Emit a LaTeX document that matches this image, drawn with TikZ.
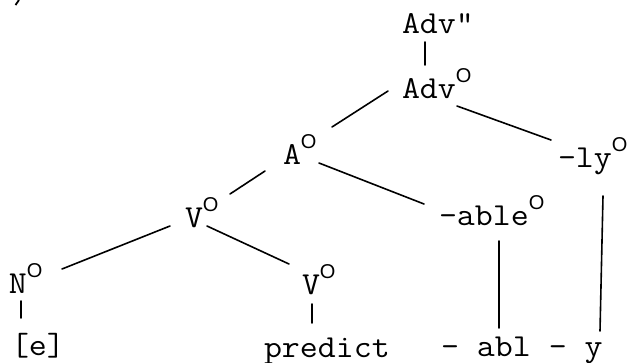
\documentclass[tikz,border=0pt]{standalone}
\usepackage{fontspec}
\setmainfont{Latin Modern Mono}[FakeStretch=1.09]
\newfontfamily\supfont{Liberation Sans}
\newcommand{\sO}{\raisebox{16pt}{\supfont\fontsize{20}{20}\selectfont O}}
\begin{document}
\begin{tikzpicture}[x=1pt,y=-1pt,
  lbl/.style={anchor=base west, inner sep=0pt, outer sep=0pt, font=\fontsize{32}{32}\selectfont},
  branch/.style={line width=1.6pt, line cap=round}]
\useasboundingbox (0,0) rectangle (631,362);
% fragment at top-left
\draw[line width=1.8pt] (15.5,5) -- (19,0);
% nodes
\node[lbl] (advpp) at (402,33) {Adv"};
\node[lbl] (adv) at (402,98) {Adv\sO};
\node[lbl] (a) at (283,164) {A\sO};
\node[lbl] (ly) at (558,167) {-ly\sO};
\node[lbl] (v) at (185,227) {V\sO};
\node[lbl] (able) at (439,225) {-able\sO};
\node[lbl] (n) at (9,293) {N\sO};
\node[lbl] (vb) at (302,294) {V\sO};
\node[lbl] (e) at (11,355) {[e]};
\node[lbl] (predict) at (264,357) {predict};
\node[lbl] (abl) at (441,356) {- abl - y};
% branches
\draw[branch] ([shift={(23,9)}]advpp.base west) -- ([shift={(23,-33)}]adv.base west);
\draw[branch] ([shift={(-14,-7)}]adv.base west) -- ([shift={(49,-37)}]a.base west);
\draw[branch] ([shift={(55,8)}]adv.base west) -- ([shift={(-7,-27)}]ly.base west);
\draw[branch] ([shift={(-18,7)}]a.base west) -- ([shift={(45,-33)}]v.base west);
\draw[branch] ([shift={(36,-1)}]a.base west) -- ([shift={(-15,-21)}]able.base west);
\draw[branch] ([shift={(-15,-1)}]v.base west) -- ([shift={(53,-24)}]n.base west);
\draw[branch] ([shift={(22,-1)}]v.base west) -- ([shift={(-13,-30)}]vb.base west);
\draw[branch] ([shift={(12,8)}]n.base west) -- ([shift={(10,-37)}]e.base west);
\draw[branch] ([shift={(10,10)}]vb.base west) -- ([shift={(48,-34)}]predict.base west);
\draw[branch] ([shift={(60,16)}]able.base west) -- ([shift={(58,-28)}]abl.base west);
\draw[branch] ([shift={(45,29)}]ly.base west) -- ([shift={(159,-25)}]abl.base west);
\end{tikzpicture}
\end{document}
